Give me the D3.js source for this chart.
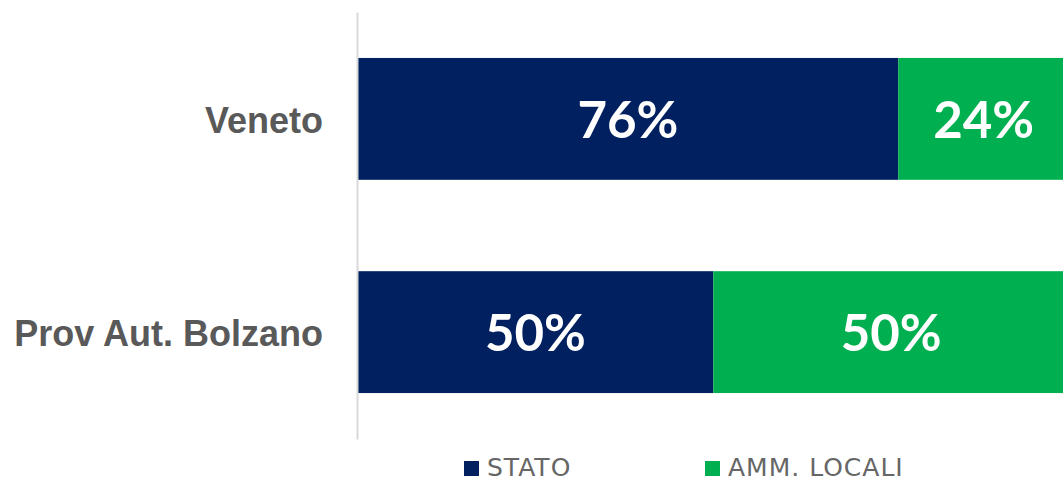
<!DOCTYPE html>
<html>
<head>
<meta charset="utf-8">
<script src="https://cdn.jsdelivr.net/npm/d3@7/dist/d3.min.js"></script>
<style>
  html, body { margin: 0; padding: 0; background: #fff; }
  svg { display: block; }
</style>
</head>
<body>
<svg id="chart" width="1063" height="481"></svg>
<script>
const categories = ["Veneto", "Prov Aut. Bolzano"];
const seriesNames = ["STATO", "AMM. LOCALI"];
const stato = [76, 50];
const ammLocali = [24, 50];
const seriesColors = ["#002060", "#00B050"];

const svg = d3.select("#chart");

const rows = categories.map((c, i) => ({ cat: c, STATO: stato[i], "AMM. LOCALI": ammLocali[i] }));
const stack = d3.stack().keys(seriesNames).offset(d3.stackOffsetExpand);
const layers = stack(rows);

const x = d3.scaleLinear().domain([0, 1]).range([357.5, 1069]);
const y = d3.scaleBand().domain(categories).range([12, 439]).paddingInner(0.4286).paddingOuter(0.2155);
const color = d3.scaleOrdinal().domain(seriesNames).range(seriesColors);

const g = svg.append("g");

const layerG = g.selectAll("g.layer").data(layers).join("g")
  .attr("class", "layer")
  .attr("fill", d => color(d.key));

layerG.selectAll("rect").data(d => d).join("rect")
  .attr("x", d => x(d[0]))
  .attr("width", d => x(d[1]) - x(d[0]))
  .attr("y", d => y(d.data.cat))
  .attr("height", y.bandwidth());

// data labels
layers.forEach(layer => {
  g.selectAll(null).data(layer).join("text")
    .attr("x", d => (x(d[0]) + x(d[1])) / 2)
    .attr("y", d => y(d.data.cat) + y.bandwidth() / 2 + 19)
    .attr("text-anchor", "middle")
    .attr("fill", "#ffffff")
    .attr("font-family", "Lato, 'Open Sans', sans-serif")
    .attr("font-weight", "bold")
    .attr("font-size", 51)
    .text(d => d.data[layer.key] + "%");
});

// axis
const axis = d3.axisLeft(y).tickSize(0).tickSizeOuter(0).tickPadding(34);
const ax = svg.append("g").attr("transform", `translate(${x(0) - 0.5},0)`).call(axis);
ax.select(".domain").attr("stroke", "#d9d9d9").attr("stroke-width", 2);
ax.selectAll(".tick text")
  .attr("fill", "#595959")
  .attr("font-family", "'Liberation Sans', Arial, sans-serif")
  .attr("font-weight", "bold")
  .attr("font-size", 36)
  .attr("dy", "0.38em");

// legend
const legendX = [464, 705];
const leg = svg.append("g");
seriesNames.forEach((s, i) => {
  const lg = leg.append("g").attr("transform", `translate(${legendX[i]},461)`);
  lg.append("rect").attr("width", 15).attr("height", 15).attr("fill", color(s));
  lg.append("text")
    .attr("x", 23).attr("y", 15)
    .attr("fill", "#666666")
    .attr("font-family", "'DejaVu Sans', sans-serif")
    .attr("font-size", 25)
    .attr("letter-spacing", 1)
    .text(s);
});
</script>
</body>
</html>
